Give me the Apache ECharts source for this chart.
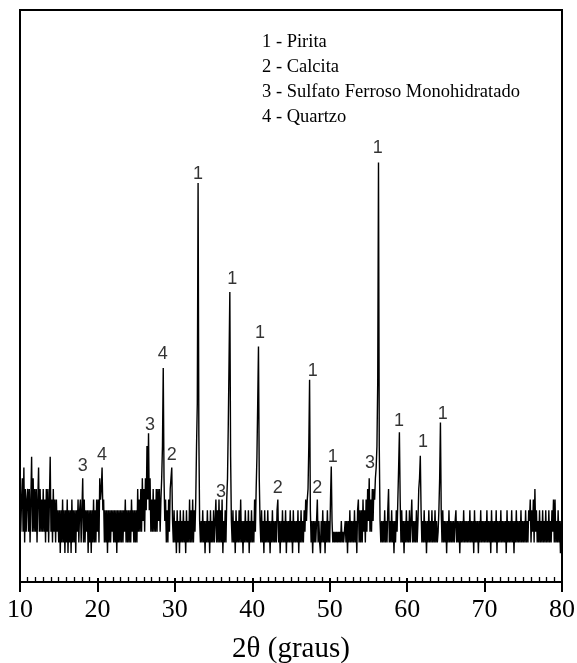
<!DOCTYPE html>
<html>
<head>
<meta charset="utf-8">
<script src="https://cdn.jsdelivr.net/npm/echarts@6/dist/echarts.min.js"></script>
<style>
html,body{margin:0;padding:0;background:#fff;}
#chart{width:577px;height:663px;}
</style>
</head>
<body>
<div id="chart"></div>
<script>
// 2θ scan: start angle and step (degrees)
const thetaStart = 10;
const thetaStep = 0.1;
// Intensity (arbitrary units), one row per degree (x.0 .. x.9)
const intensity = [
  6,2,5,7,2,8,1,6,2,5,        // 10
  6,2,6,1,5,9,2,7,2,6,        // 11
  2,6,1,5,8,2,6,2,5,2,        // 12
  6,2,5,1,6,2,6,1,5,9,        // 13
  2,5,1,6,2,5,1,5,2,4,        // 14
  1,4,0,4,1,5,1,4,0,4,        // 15
  1,5,0,4,1,4,0,5,1,4,        // 16
  1,4,0,4,2,5,1,4,5,1,        // 17
  4,7,1,5,1,4,2,4,0,4,        // 18
  1,4,0,4,1,5,1,4,1,5,        // 19
  2,5,1,7,5,6,8,4,5,1,        // 20
  4,1,4,0,4,1,4,1,4,2,        // 21
  4,1,4,1,4,0,4,1,4,1,        // 22
  4,1,4,1,4,2,5,1,4,1,        // 23
  4,1,4,1,5,2,4,1,4,1,        // 24
  4,1,6,2,5,2,6,2,7,3,        // 25
  6,2,7,4,10,5,11.2,4,7,2,    // 26
  5,2,6,2,5,2,6,2,6,3,        // 27
  6,2,5,7,10,17.3,7,3,5,1,    // 28
  4,1,5,2,6,7,8,3,1,4,        // 29
  1,3,0,4,1,3,0,4,1,3,        // 30
  1,4,1,3,0,4,1,3,1,5,        // 31
  1,4,1,5,1,4,2,5,10,14,      // 32
  34.6,11,3,1,3,1,4,1,3,0,    // 33
  3,1,4,1,3,0,4,1,3,1,        // 34
  4,1,3,5,1,4,1,5,1,4,        // 35
  1,5,0,3,1,4,1,5,7,12,       // 36
  18,24.4,9,3,1,4,1,3,0,4,    // 37
  1,3,1,4,1,5,1,3,0,3,        // 38
  1,4,1,3,1,4,0,3,1,4,        // 39
  1,3,1,5,2,6,9,14,19.3,7,    // 40
  3,1,4,1,3,0,4,1,3,1,        // 41
  4,1,3,0,3,1,4,1,3,1,        // 42
  3,1,4,5,1,3,0,3,1,4,        // 43
  1,3,1,4,0,3,1,3,1,4,        // 44
  1,3,0,4,1,3,1,3,1,4,        // 45
  0,3,1,4,1,3,1,4,2,5,        // 46
  3,5,6,10,16.2,4,1,3,0,3,    // 47
  1,3,1,3,5,1,3,1,0,3,        // 48
  1,4,1,3,0,3,1,4,1,3,        // 49
  1,5,8.1,3,1,2,1,2,1,2,      // 50
  1,2,1,2,1,3,1,2,1,2,        // 51
  3,1,3,0,3,1,4,1,3,1,        // 52
  3,1,4,1,3,0,4,5,1,4,        // 53
  1,4,1,5,2,4,1,5,2,6,        // 54
  3,7,2,5,2,6,3,6,5,7,        // 55
  8,10,16,36.5,10,3,1,3,1,3,  // 56
  1,4,1,3,1,4,6,1,3,1,        // 57
  4,1,3,0,3,1,4,2,5,8,        // 58
  11.3,5,1,4,1,3,0,3,1,4,     // 59
  1,3,1,4,1,3,5,1,3,1,        // 60
  3,1,4,1,3,6,7,9.1,4,1,      // 61
  3,1,4,1,3,0,3,1,4,1,        // 62
  3,1,4,1,3,1,4,1,3,1,        // 63
  2,4,7,12.2,4,1,4,1,3,1,     // 64
  3,0,3,1,4,1,3,1,3,1,        // 65
  3,1,3,4,1,3,1,3,0,3,        // 66
  1,3,1,4,1,3,1,3,1,3,        // 67
  1,4,1,3,1,3,0,4,1,3,        // 68
  1,3,0,3,1,4,1,3,1,3,        // 69
  1,3,1,4,1,3,1,3,0,4,        // 70
  1,3,1,3,1,4,0,3,1,3,        // 71
  1,4,1,3,1,3,1,3,0,4,        // 72
  1,3,1,3,1,4,1,3,0,3,        // 73
  1,4,1,3,1,3,1,4,1,3,        // 74
  1,3,1,4,1,3,1,4,3,5,        // 75
  1,4,2,5,1,6,2,4,1,3,        // 76
  1,4,1,3,1,4,1,3,1,4,        // 77
  1,3,1,4,1,3,1,4,2,5,        // 78
  1,5,1,3,1,4,1,3,0,3,        // 79
  2                           // 80
];
// Peak identification labels
const peakTheta = [18.1, 20.6, 26.8, 28.45, 29.6, 33.0, 35.95, 37.4, 41.0, 43.3, 47.8, 48.4, 50.4, 55.2, 56.2, 58.95, 62.05, 64.6];
const peakLevel = [8.1, 9.2, 12.0, 18.6, 9.2, 35.4, 5.7, 25.6, 20.6, 6.1, 17.0, 6.1, 9.0, 8.4, 37.9, 12.3, 10.4, 13.0];
const peakText  = ['3','4','3','4','2','1','3','1','1','2','1','2','1','3','1','1','1','1'];
// Phase key
const legendLines = ['1 - Pirita', '2 - Calcita', '3 - Sulfato Ferroso Monohidratado', '4 - Quartzo'];
const xTicks = [10, 80, 10]; // min, max, interval
const xTitle = '2θ (graus)';

const lineData = intensity.map((v, i) => [thetaStart + i * thetaStep, v]);
const peakData = peakTheta.map((t, i) => ({ value: [t, peakLevel[i]], name: peakText[i] }));

const chart = echarts.init(document.getElementById('chart'), null, { renderer: 'canvas' });
const serif = 'Liberation Serif, Times New Roman, serif';
chart.setOption({
  animation: false,
  backgroundColor: '#fff',
  grid: { left: 20, right: 15, top: 10, bottom: 81, containLabel: false, outerBoundsMode: 'none',
          show: true, borderColor: '#000', borderWidth: 2, backgroundColor: 'transparent' },
  xAxis: [
    {
      type: 'value', min: xTicks[0], max: xTicks[1], interval: xTicks[2], position: 'bottom',
      axisLine: { show: true, onZero: false, lineStyle: { color: '#000', width: 2 } },
      axisTick: { show: true, inside: true, length: 4, lineStyle: { color: '#000', width: 2 } },
      minorTick: { show: true, splitNumber: 10, length: 5, lineStyle: { color: '#000', width: 1.3 } },
      axisLabel: { show: false },
      splitLine: { show: false }
    },
    {
      type: 'value', min: xTicks[0], max: xTicks[1], interval: xTicks[2], position: 'bottom',
      axisLine: { show: false, onZero: false },
      axisTick: { show: true, inside: false, length: 10, lineStyle: { color: '#000', width: 2 } },
      axisLabel: { show: true, color: '#000', fontFamily: serif, fontSize: 26, margin: 15 },
      splitLine: { show: false },
      name: xTitle, nameLocation: 'middle', nameGap: 53,
      nameTextStyle: { color: '#000', fontFamily: serif, fontSize: 29 }
    }
  ],
  yAxis: { type: 'value', min: -2.7, max: 50.76, show: false },
  series: [
    {
      // diffractogram drawn as one dense polyline through the axis scales
      type: 'custom', data: [[thetaStart, 0]], silent: true, clip: true, z: 2,
      renderItem: (params, api) => ({
        type: 'polyline',
        shape: { points: lineData.map(d => api.coord(d)) },
        style: { stroke: '#000', lineWidth: 1.4, fill: null, lineJoin: 'miter' }
      })
    },
    {
      type: 'scatter', data: peakData, symbolSize: 0,
      itemStyle: { color: 'transparent' },
      label: { show: true, position: 'inside', formatter: p => p.name, color: '#000',
               fontFamily: 'Liberation Sans, Arial, sans-serif', fontSize: 18 },
      z: 3
    }
  ],
  graphic: legendLines.map((t, i) => ({
    type: 'text', left: 262, top: 33 + i * 25,
    style: { text: t, fill: '#000', font: '18.5px ' + serif }
  }))
});
</script>
</body>
</html>
